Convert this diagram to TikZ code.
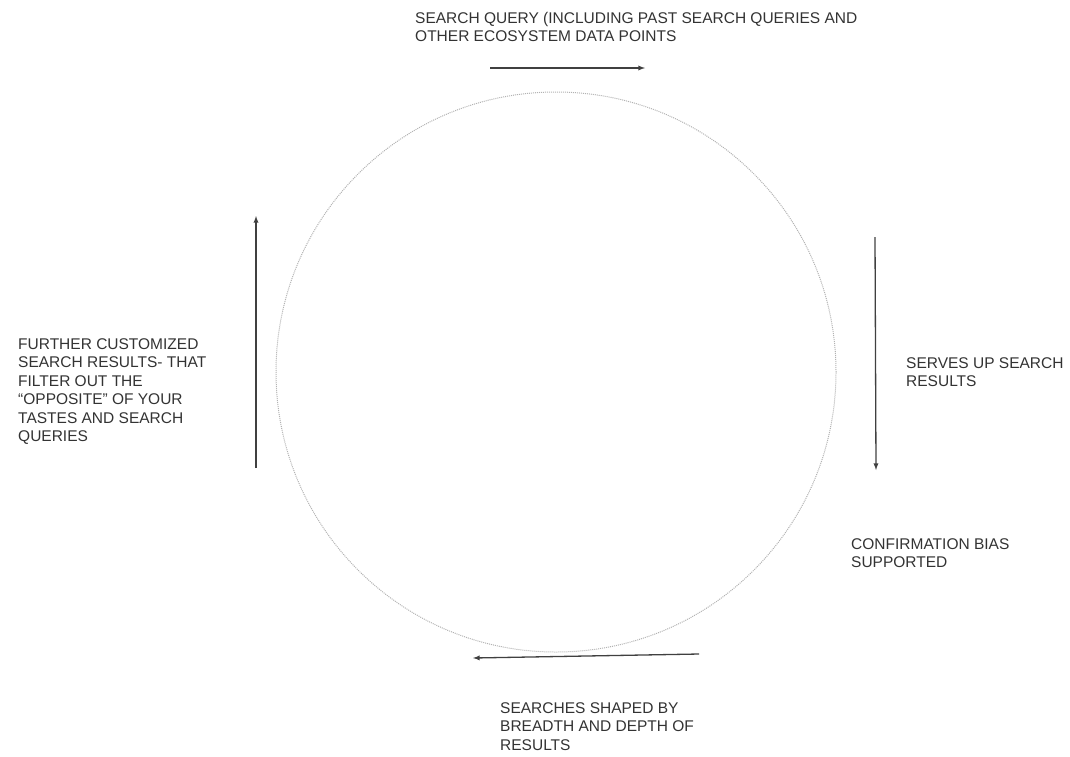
\documentclass[tikz,border=0pt]{standalone}
\usepackage{fontspec}
\setmainfont{Liberation Sans}
\usetikzlibrary{positioning}

\begin{document}
\begin{tikzpicture}[
x=1pt, y=-1pt,
lbl/.style={anchor=north west, inner sep=0pt, align=left, text=black!80, font=\fontsize{15.5}{18.5}\selectfont},
ring/.style={circle, draw=black!30, densely dotted, line width=1pt, minimum size=560pt, inner sep=0pt},
flow/.style={->, >=latex, draw=black!75, line width=1.3pt}
]
\useasboundingbox (0,0) rectangle (1070,756);
%Circle
\node[ring]	(cycle)	at (556,372)	{};

%Nodes
\node[lbl]	(query)		at (415,12)		{SEARCH QUERY (INCLUDING PAST SEARCH QUERIES AND\\ OTHER ECOSYSTEM DATA POINTS};
\node[lbl]	(serves)	at (906,357)	{SERVES UP SEARCH\\ RESULTS};
\node[lbl]	(bias)		at (851,538)	{CONFIRMATION BIAS\\ SUPPORTED};
\node[lbl]	(shaped)	at (500,702)	{SEARCHES SHAPED BY\\ BREADTH AND DEPTH OF\\ RESULTS};
\node[lbl]	(further)	at (18,338)		{FURTHER CUSTOMIZED\\ SEARCH RESULTS- THAT\\ FILTER OUT THE\\ ``OPPOSITE'' OF YOUR\\ TASTES AND SEARCH\\ QUERIES};

%Arrow ends
\coordinate (top_a) at (490,68);	\coordinate (top_b) at (645,68);
\coordinate (right_a) at (875,237);	\coordinate (right_b) at (876,470);
\coordinate (bot_a) at (699,654);	\coordinate (bot_b) at (473,658);
\coordinate (left_a) at (256,468);	\coordinate (left_b) at (256,216);

%Lines
\draw[flow] (top_a)		--	(top_b);
\draw[flow] (right_a)	--	(right_b);
\draw[flow] (bot_a)		--	(bot_b);
\draw[flow] (left_a)	--	(left_b);

\end{tikzpicture}
\end{document}
